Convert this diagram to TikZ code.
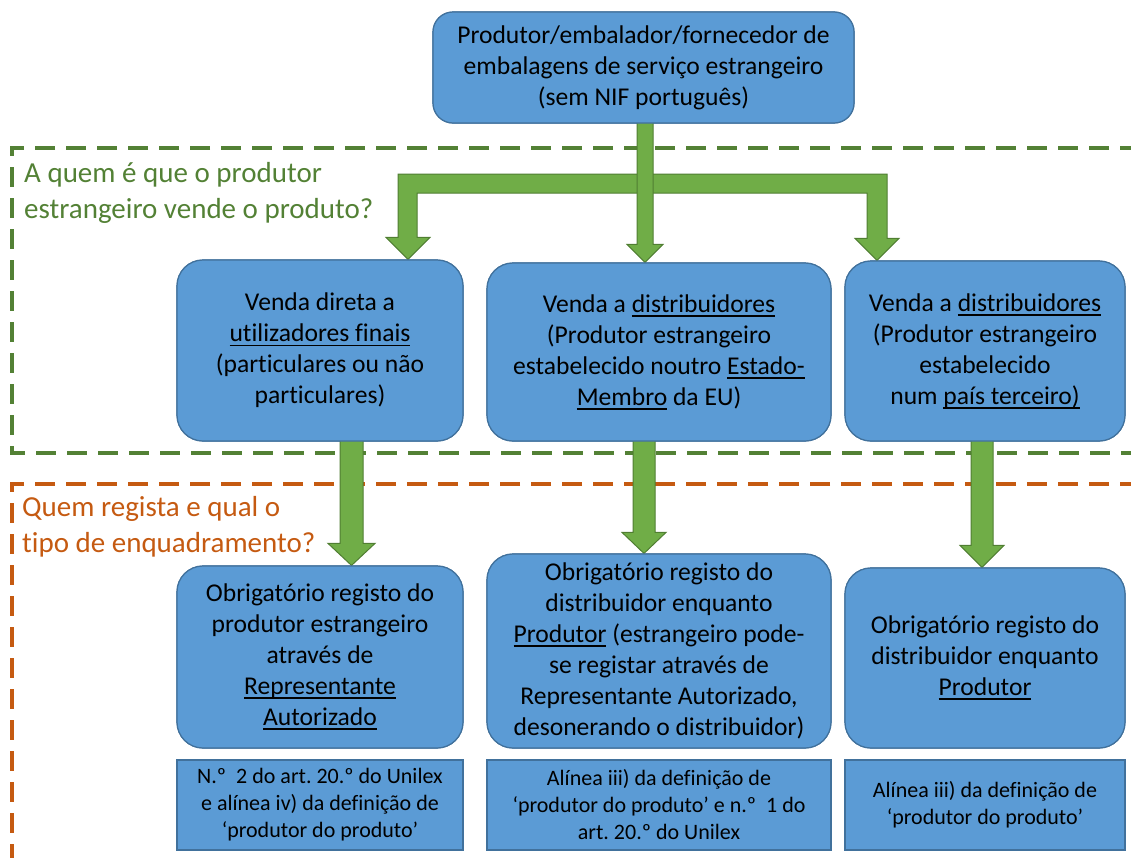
\documentclass[tikz,border=0pt]{standalone}
\usepackage{fontspec}
\setmainfont{Carlito}[Ligatures=NoCommon]
\usetikzlibrary{calc}
\definecolor{boxblue}{HTML}{5B9BD5}
\definecolor{boxedge}{HTML}{41719C}
\definecolor{arrfill}{HTML}{70AD47}
\definecolor{arredge}{HTML}{507E32}
\definecolor{dgreen}{HTML}{538135}
\definecolor{dorange}{HTML}{C55A11}
\newcommand\uln[1]{\leavevmode\setbox0\hbox{#1}\rlap{\rule[-4.5pt]{\wd0}{1.8pt}}\box0\relax}
% #1 x coordinate, #2 from node, #3 to node, #4 half shaft, #5 half head, #6 head length
\newcommand\fatdown[6]{%
  \path (#2.south -| #1) coordinate (fs) (#3.north -| #1) coordinate (ft);
  \draw[fat] ($(fs)+(-#4,-2)$) -- ($(ft)+(-#4,-#6)$) -- ($(ft)+(-#5,-#6)$) -- (ft)
    -- ($(ft)+(#5,-#6)$) -- ($(ft)+(#4,-#6)$) -- ($(fs)+(#4,-2)$) -- cycle;}
\frenchspacing
\begin{document}
\begin{tikzpicture}[x=1pt,y=-1pt,
  blk/.style={draw=boxedge,fill=boxblue,line width=1.2pt,rounded corners=26pt,align=center,
    font=\fontsize{25.6}{31}\selectfont,inner sep=0pt},
  refbox/.style={draw=boxedge,fill=boxblue,line width=1.2pt,align=center,
    font=\fontsize{22}{27}\selectfont,inner sep=0pt,minimum height=90pt},
  fat/.style={draw=arredge,fill=arrfill,line width=1pt,line join=miter},
  zone/.style={line width=4pt,dash pattern=on 20pt off 11pt},
  lbl/.style={align=left,font=\fontsize{29}{36}\selectfont,inner sep=0pt,anchor=north west}]
\useasboundingbox (0,0) rectangle (1131,857);
\clip (0,0) rectangle (1131,857);

% zones
\draw[zone,dgreen] (1140,148) -- (12,148) -- (12,453) -- (1140,453);
\draw[zone,dorange] (1140,484) -- (12,484) -- (12,870);
\node[lbl,text=dgreen] (q1) at (24,162) {A quem é que o produtor\\estrangeiro vende o produto?};
\node[lbl,text=dorange] (q2) at (22,496) {Quem regista e qual o\\tipo de enquadramento?};

% x positions of the arrows
\coordinate (xl) at (408,0);
\coordinate (xm) at (645,0);
\coordinate (xr) at (877,0);
\coordinate (x1) at (351.5,0);
\coordinate (x2) at (644,0);
\coordinate (x3) at (982,0);

% box geometry (filled with text later, on top of the arrows)
\path
  node[blk,rounded corners=20pt,minimum width=421pt,minimum height=111pt] (top) at (643.5,67.5) {}
  node[blk,minimum width=286pt,minimum height=181pt] (b1) at (320,350.5) {}
  node[blk,minimum width=344pt,minimum height=178pt] (b2) at (659,352) {}
  node[blk,minimum width=280pt,minimum height=180pt] (b3) at (985,351) {}
  node[blk,minimum width=286pt,minimum height=182pt] (c1) at (320,657) {}
  node[blk,minimum width=344pt,minimum height=194pt] (c2) at (659,651) {}
  node[blk,minimum width=280pt,minimum height=180pt] (c3) at (985,658) {};

% arrows: top split
\path (b1.north -| xl) coordinate (tl) (b3.north -| xr) coordinate (tr);
\draw[fat] (645,174) -- (398,174) -- ($(tl)+(-10,-22)$) -- ($(tl)+(-22,-22)$) -- (tl)
  -- ($(tl)+(22,-22)$) -- ($(tl)+(9,-22)$) -- (417,193) -- (645,193) -- cycle;
\draw[fat] (645,174) -- (887,174) -- ($(tr)+(10,-22)$) -- ($(tr)+(22,-22)$) -- (tr)
  -- ($(tr)+(-22,-22)$) -- ($(tr)+(-10,-22)$) -- (867,193) -- (645,193) -- cycle;
\fatdown{xm}{top}{b2}{8}{18}{18}
% arrows: lower
\fatdown{x1}{b1}{c1}{11.5}{23.5}{22}
\fatdown{x2}{b2}{c2}{11}{22}{21}
\fatdown{x3}{b3}{c3}{11}{22}{22}

% boxes with text
\node[blk,rounded corners=20pt,minimum width=421pt,minimum height=111pt] at (top)
  {Produtor/embalador/fornecedor de\\embalagens de serviço estrangeiro\\(sem NIF português)};
\node[blk,minimum width=286pt,minimum height=181pt] at (b1)
  {Venda direta a\\\uln{utilizadores finais}\\(particulares ou não\\particulares)};
\node[blk,minimum width=344pt,minimum height=178pt] at (b2)
  {Venda a \uln{distribuidores}\\(Produtor estrangeiro\\estabelecido noutro \uln{Estado-}\\\uln{Membro} da EU)};
\node[blk,minimum width=280pt,minimum height=180pt] at (b3)
  {Venda a \uln{distribuidores}\\(Produtor estrangeiro\\estabelecido\\num \uln{país terceiro)}};
\node[blk,minimum width=286pt,minimum height=182pt] at (c1)
  {Obrigatório registo do\\produtor estrangeiro\\através de\\\uln{Representante}\\\uln{Autorizado}};
\node[blk,minimum width=344pt,minimum height=194pt] at (c2)
  {Obrigatório registo do\\distribuidor enquanto\\\uln{Produtor} (estrangeiro pode-\\se registar através de\\Representante Autorizado,\\desonerando o distribuidor)};
\node[blk,minimum width=280pt,minimum height=180pt] at (c3)
  {Obrigatório registo do\\distribuidor enquanto\\\uln{Produtor}};

% reference boxes
\node[refbox,minimum width=286pt] (d1) at (320,805)
  {N.º\ \ 2 do art. 20.º do Unilex\\e alínea iv) da definição de\\‘produtor do produto’};
\node[refbox,minimum width=344pt] (d2) at (659,805)
  {Alínea iii) da definição de\\‘produtor do produto’ e n.º\ \ 1 do\\art. 20.º do Unilex};
\node[refbox,minimum width=280pt] (d3) at (985,805)
  {Alínea iii) da definição de\\‘produtor do produto’};
\end{tikzpicture}
\end{document}
